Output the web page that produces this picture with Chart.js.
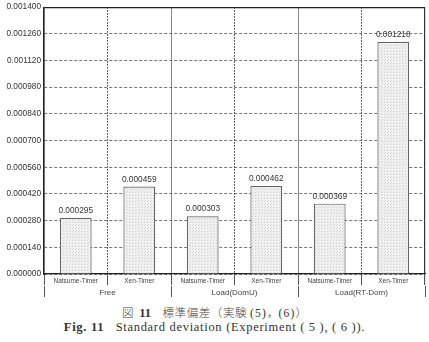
<!DOCTYPE html>
<html>
<head>
<meta charset="utf-8">
<script src="https://cdn.jsdelivr.net/npm/chart.js@4"></script>
<style>
  html, body { margin: 0; padding: 0; background: #fff; }
  .wrap { position: relative; width: 429px; height: 342px; }
  canvas { position: absolute; left: 0; top: 0; }
  .cap {
    position: absolute; left: 0; width: 429px; text-align: center;
    font-family: "Liberation Serif", "Noto Sans CJK JP", serif;
    color: #333; white-space: pre; line-height: 1;
  }
  .cap1 { top: 307px; font-size: 11.5px; }
  .cap1 .jp { font-family: "Noto Sans CJK JP"; font-weight: 300; color: #444; }
  .cap2 { top: 321px; font-size: 12.5px; letter-spacing: 0.7px; }
  .cap b { font-weight: bold; }
</style>
</head>
<body>
<div class="wrap">
  <canvas id="chart" width="429" height="300"></canvas>
  <div class="cap cap1"><span class="jp">図</span>  <b style="font-size:12.5px">11</b>    <span class="jp" style="letter-spacing:0.6px">標準偏差（実験</span> <span style="letter-spacing:1.2px">(5)</span><span class="jp">，</span><span style="letter-spacing:1.2px">(6)</span><span class="jp">）</span></div>
  <div class="cap cap2"><b>Fig. 11</b>   Standard deviation (Experiment ( 5 ), ( 6 )).</div>
</div>
<script>
const categories = ['Natsume-Timer', 'Xen-Timer', 'Natsume-Timer', 'Xen-Timer', 'Natsume-Timer', 'Xen-Timer'];
const groups = ['Free', 'Load(DomU)', 'Load(RT-Dom)'];
const stdDev = [0.000295, 0.000459, 0.000303, 0.000462, 0.000369, 0.001218];
const yTicks = [0, 0.00014, 0.00028, 0.00042, 0.00056, 0.0007, 0.00084, 0.00098, 0.00112, 0.00126, 0.0014];

// light stippled fill like the printed figure
function stipple() {
  const c = document.createElement('canvas');
  c.width = 3; c.height = 3;
  const g = c.getContext('2d');
  g.fillStyle = '#f1f1f1';
  g.fillRect(0, 0, 3, 3);
  g.fillStyle = '#cdcdcd';
  g.fillRect(0, 0, 1, 1);
  g.fillStyle = '#dcdcdc';
  g.fillRect(1, 2, 1, 1);
  return g.createPattern(c, 'repeat');
}

const valueLabels = {
  id: 'valueLabels',
  afterDatasetsDraw(chart) {
    const ctx = chart.ctx;
    const meta = chart.getDatasetMeta(0);
    ctx.save();
    ctx.font = '8.3px "Liberation Sans", Arial, sans-serif';
    ctx.fillStyle = '#333';
    ctx.textAlign = 'center';
    ctx.textBaseline = 'bottom';
    meta.data.forEach((bar, i) => {
      ctx.fillText(stdDev[i].toFixed(6), bar.x, bar.y - 3);
    });
    ctx.restore();
  }
};

// boundary index: 0 = left edge, odd = inside a group, 2/4 = between groups, 6 = right edge
function isGroupEdge(ctx) {
  return ctx.index === undefined || ctx.index % 2 === 0;
}

const sans = '"Liberation Sans", Arial, sans-serif';

new Chart(document.getElementById('chart'), {
  type: 'bar',
  data: {
    labels: categories,
    datasets: [{
      data: stdDev,
      backgroundColor: stipple(),
      borderColor: '#666',
      borderWidth: 1.2,
      categoryPercentage: 0.5,
      barPercentage: 1
    }]
  },
  options: {
    responsive: false,
    animation: false,
    layout: { padding: { left: 4, right: 4, top: 0, bottom: 1.5 } },
    plugins: { legend: { display: false }, tooltip: { enabled: false } },
    scales: {
      x: {
        offset: true,
        afterFit: s => { s.height = 11.5; },
        grid: {
          offset: true,
          color: ctx => ctx.index === undefined ? '#333' : (isGroupEdge(ctx) ? '#888' : '#333'),
          lineWidth: ctx => ctx.index === undefined ? 1.2 : 1,
          tickLength: 11,
          tickColor: '#555'
        },
        border: {
          color: '#222',
          width: 1.2,
          dash: ctx => isGroupEdge(ctx) ? [] : [1.5, 1.5]
        },
        ticks: {
          padding: -7.4,
          color: '#444',
          font: { family: sans, size: 6.5 },
          maxRotation: 0,
          autoSkip: false
        }
      },
      x2: {
        type: 'category',
        position: 'bottom',
        labels: groups,
        offset: true,
        afterFit: s => { s.height = 13; },
        grid: {
          offset: true,
          drawOnChartArea: false,
          tickLength: 11.5,
          tickColor: '#555'
        },
        border: { display: false },
        ticks: {
          padding: -8.8,
          color: '#444',
          font: { family: sans, size: 8 },
          maxRotation: 0,
          autoSkip: false
        }
      },
      y: {
        min: 0,
        max: 0.0014,
        afterBuildTicks: s => { s.ticks = yTicks.map(v => ({ value: v })); },
        afterFit: s => { s.width = 40; },
        grid: {
          drawTicks: false,
          color: ctx => ctx.tick && ctx.tick.value >= 0.0014 ? '#222' : '#555',
          lineWidth: ctx => ctx.tick && ctx.tick.value >= 0.0014 ? 1.2 : 0.8
        },
        border: {
          color: '#222',
          width: 1.2,
          dash: ctx => ctx.tick && ctx.tick.value >= 0.0014 ? [] : [3, 2]
        },
        ticks: {
          padding: 3,
          color: '#333',
          font: { family: sans, size: 8.3, lineHeight: 1 },
          callback: v => v.toFixed(6)
        }
      }
    }
  },
  plugins: [valueLabels]
});
</script>
</body>
</html>
